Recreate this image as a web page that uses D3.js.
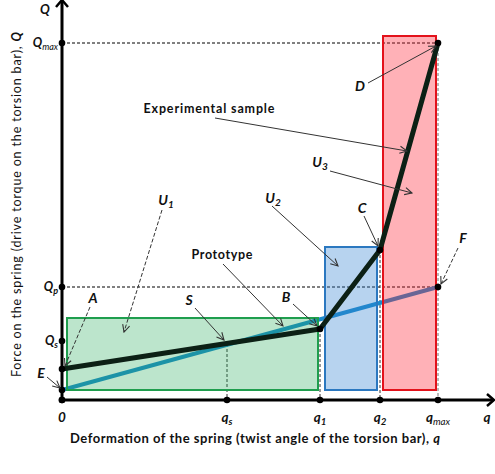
<!DOCTYPE html>
<html>
<head>
<meta charset="utf-8">
<script src="https://cdn.jsdelivr.net/npm/d3@7"></script>
<style>
  body { margin: 0; background: #fff; }
  text { font-family: Lato, "Open Sans", sans-serif; }
</style>
</head>
<body>
<div id="chart"></div>
<script>
// schematic values (arbitrary units measured from the origin)
var xTickValues = [0, 165, 258, 318, 376];
var xTickNames = [["0", ""], ["q", "s"], ["q", "1"], ["q", "2"], ["q", "max"]];
var yTickValues = [357, 113, 59, 31, 10, 0];
var yTickNames = [["Q", "max"], ["Q", "p"], ["Q", "s"], ["", ""], ["", ""], ["", ""]];

var experimental = [[0, 31], [258, 71], [318, 150], [376, 357]];
var prototype = [[0, 10], [376, 113]];

var zoneNames = ["U1", "U2", "U3"];
var zoneX = [[5, 256], [263, 315], [321, 374]];
var zoneY = [[10, 82], [10, 153], [10, 364]];

// labels with arrow start / arrow end
var notes = [
  { t: "A", sub: "", at: [31, 102], from: [28, 93], to: [3, 34], dash: true },
  { t: "E", sub: "", at: [-21, 27], from: [-15, 23], to: [-2, 12], dash: false },
  { t: "S", sub: "", at: [127, 100], from: [133, 92], to: [162, 60], dash: false },
  { t: "B", sub: "", at: [224, 103], from: [231, 96], to: [255, 74], dash: false },
  { t: "U", sub: "1", at: [104, 200], from: [100, 190], to: [62, 68], dash: true },
  { t: "U", sub: "2", at: [211, 202], from: [210, 194], to: [276, 134], dash: false },
  { t: "C", sub: "", at: [300, 192], from: [302, 184], to: [316, 154], dash: false },
  { t: "D", sub: "", at: [298, 314], from: [306, 317], to: [374, 354], dash: false },
  { t: "U", sub: "3", at: [258, 238], from: [268, 229], to: [350, 207], dash: false },
  { t: "F", sub: "", at: [401, 162], from: [396, 152], to: [379, 116], dash: true }
];
var captions = [
  { t: "Experimental sample", at: [147, 291], from: [153, 282], to: [345, 249], len: 131 },
  { t: "Prototype", at: [160, 145], from: [161, 136], to: [221, 74], len: 61 }
];

var width = 495, height = 474;
var svg = d3.select("#chart").append("svg").attr("width", width).attr("height", height);

var x = d3.scaleLinear().domain([0, 432]).range([62, 494]);
var y = d3.scaleLinear().domain([0, 400]).range([400, 0]);

var defs = svg.append("defs");
defs.append("marker")
  .attr("id", "open")
  .attr("viewBox", "0 0 10 10")
  .attr("refX", 9).attr("refY", 5)
  .attr("markerWidth", 9).attr("markerHeight", 9)
  .attr("markerUnits", "userSpaceOnUse")
  .attr("orient", "auto")
  .append("path")
  .attr("d", "M1,1 L9,5 L1,9")
  .attr("fill", "none")
  .attr("stroke", "#333")
  .attr("stroke-width", 1.2);

var line = d3.line().x((d) => x(d[0])).y((d) => y(d[1]));

// dashed guides
var qmaxV = xTickValues[4];
[[yTickValues[0], qmaxV], [yTickValues[1], qmaxV]].forEach((d) => {
  svg.append("line")
    .attr("x1", x(0)).attr("x2", x(d[1]))
    .attr("y1", y(d[0])).attr("y2", y(d[0]))
    .attr("stroke", "#000").attr("stroke-width", 1)
    .attr("stroke-dasharray", "3,2");
});
var guideTops = [56, experimental[1][1], experimental[2][1], experimental[3][1]];
[1, 2, 3, 4].forEach((k, i) => {
  svg.append("line")
    .attr("x1", x(xTickValues[k])).attr("x2", x(xTickValues[k]))
    .attr("y1", y(guideTops[i])).attr("y2", y(0))
    .attr("stroke", k == 4 ? "#777" : "#333").attr("stroke-width", 1)
    .attr("stroke-dasharray", "3,2");
});

// prototype curve sits under the tinted zones
svg.append("path").datum(prototype).attr("d", line)
  .attr("fill", "none").attr("stroke", "#1b8acb").attr("stroke-width", 4);

var zoneFill = ["#22aa55", "#3080d0", "#ff2030"];
var zoneStroke = ["#1f9e4e", "#2b78c0", "#e3121b"];
var zoneOpacity = [0.3, 0.35, 0.35];
zoneNames.forEach((n, i) => {
  svg.append("rect")
    .attr("x", x(zoneX[i][0])).attr("width", x(zoneX[i][1]) - x(zoneX[i][0]))
    .attr("y", y(zoneY[i][1])).attr("height", y(zoneY[i][0]) - y(zoneY[i][1]))
    .attr("fill", zoneFill[i]).attr("fill-opacity", zoneOpacity[i])
    .attr("stroke", zoneStroke[i]).attr("stroke-width", 2);
});

// experimental curve on top, stays dark
svg.append("path").datum(experimental).attr("d", line)
  .attr("fill", "none").attr("stroke", "#0c2015").attr("stroke-width", 5)
  .attr("stroke-linejoin", "round");

// axes
svg.append("line").attr("x1", x(0)).attr("x2", 493).attr("y1", y(0)).attr("y2", y(0))
  .attr("stroke", "#000").attr("stroke-width", 3);
svg.append("line").attr("x1", x(0)).attr("x2", x(0)).attr("y1", y(0)).attr("y2", 1)
  .attr("stroke", "#000").attr("stroke-width", 3);
svg.append("path").attr("d", `M487,${y(0) - 6} L494,${y(0)} L487,${y(0) + 6}`)
  .attr("fill", "none").attr("stroke", "#000").attr("stroke-width", 2.5);
svg.append("path").attr("d", `M${x(0) - 6},7 L${x(0)},0 L${x(0) + 6},7`)
  .attr("fill", "none").attr("stroke", "#000").attr("stroke-width", 2.5);

// dots
var dots = [];
xTickValues.forEach((v) => dots.push([v, 0]));
yTickValues.forEach((v) => dots.push([0, v]));
experimental.slice(1).forEach((d) => dots.push(d));
dots.push(prototype[1]);
svg.append("g").selectAll("circle").data(dots).enter().append("circle")
  .attr("cx", (d) => x(d[0])).attr("cy", (d) => y(d[1])).attr("r", 3.3).attr("fill", "#000");

function label(g, main, sub, px, py, size, anchor) {
  var t = g.append("text").attr("x", px).attr("y", py)
    .attr("text-anchor", anchor).attr("font-size", size)
    .attr("font-style", "italic").attr("font-weight", "bold").attr("fill", "#111");
  t.append("tspan").text(main);
  if (sub) t.append("tspan").attr("dy", 3).attr("font-size", size * 0.72)
    .attr("font-weight", sub.length > 1 ? "normal" : "bold").text(sub);
  return t;
}

// tick labels
xTickValues.forEach((v, i) => {
  label(svg, xTickNames[i][0], xTickNames[i][1], x(v), y(0) + 22, 13.5, "middle");
});
label(svg, "q", "", 487, y(0) + 22, 13.5, "middle");
yTickValues.forEach((v, i) => {
  if (yTickNames[i][0]) label(svg, yTickNames[i][0], yTickNames[i][1], x(0) - 4, y(v) + 4, 12.5, "end");
});
label(svg, "Q", "", 45, 14, 13, "middle");

// axis titles
var xt = svg.append("text").attr("x", 70).attr("y", 443)
  .attr("font-size", 13).attr("font-weight", "bold").attr("fill", "#111")
  .attr("textLength", 370).attr("lengthAdjust", "spacing");
xt.append("tspan").text("Deformation of the spring (twist angle of the torsion bar), ");
xt.append("tspan").attr("font-style", "italic").text("q");

var yt = svg.append("text").attr("transform", "translate(21,377) rotate(-90)")
  .attr("font-size", 12.5).attr("fill", "#111")
  .attr("textLength", 345).attr("lengthAdjust", "spacing");
yt.append("tspan").text("Force on the spring (drive torque on the torsion bar), ");
yt.append("tspan").attr("font-style", "italic").attr("font-weight", "bold").text("Q");

// annotations
notes.forEach((n) => {
  svg.append("line")
    .attr("x1", x(n.from[0])).attr("y1", y(n.from[1]))
    .attr("x2", x(n.to[0])).attr("y2", y(n.to[1]))
    .attr("stroke", "#333").attr("stroke-width", 1)
    .attr("stroke-dasharray", n.dash ? "4,2" : null)
    .attr("marker-end", "url(#open)");
  label(svg, n.t, n.sub, x(n.at[0]), y(n.at[1]) + 5, 14, "middle");
});
captions.forEach((c) => {
  svg.append("line")
    .attr("x1", x(c.from[0])).attr("y1", y(c.from[1]))
    .attr("x2", x(c.to[0])).attr("y2", y(c.to[1]))
    .attr("stroke", "#333").attr("stroke-width", 1)
    .attr("marker-end", "url(#open)");
  svg.append("text").attr("x", x(c.at[0]) - c.len / 2).attr("y", y(c.at[1]) + 4)
    .attr("font-size", 12.5).attr("font-weight", "bold")
    .attr("textLength", c.len).attr("lengthAdjust", "spacing")
    .attr("fill", "#111").text(c.t);
});
</script>
</body>
</html>
